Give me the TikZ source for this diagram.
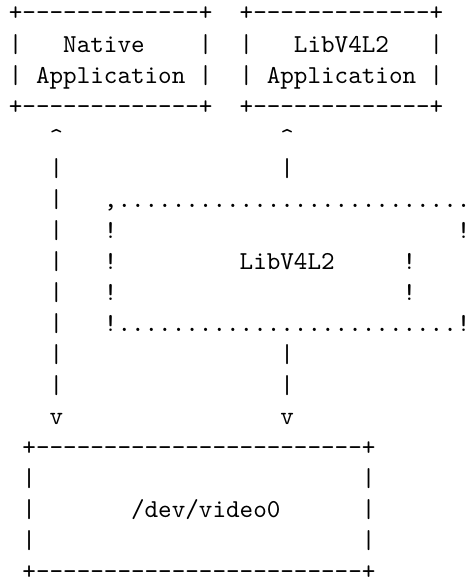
\documentclass[tikz,border=0pt]{standalone}

\newcommand\asciirun[4]{%
    \foreach \c in {#2,...,#3} \node[chr] at (\c,#1) {#4};}

\begin{document}
\begin{tikzpicture}[
    x=5.25pt, y=-12pt,
    chr/.style={font=\ttfamily, inner sep=0pt, outer sep=0pt, anchor=base west}
]
    \useasboundingbox (-0.656,0.323) rectangle (33.75,19.08);

    % application boxes
    \foreach \r in {1,4} {
        \node[chr] at (0,\r) {+}; \asciirun{\r}{1}{13}{-} \node[chr] at (14,\r) {+};
        \node[chr] at (17,\r) {+}; \asciirun{\r}{18}{30}{-} \node[chr] at (31,\r) {+};
    }
    \foreach \r in {2,3} {
        \node[chr] at (0,\r) {|}; \node[chr] at (14,\r) {|};
        \node[chr] at (17,\r) {|}; \node[chr] at (31,\r) {|};
    }
    \node[chr] at (4,2) (native) {Native};
    \node[chr] at (2,3) (nativeapp) {Application};
    \node[chr] at (21,2) (libapp) {LibV4L2};
    \node[chr] at (19,3) (libappname) {Application};

    % arrows
    \node[chr] at (3,5) (up1) {\textasciicircum};
    \node[chr] at (20,5) (up2) {\textasciicircum};
    \foreach \r in {6,...,13} \node[chr] at (3,\r) {|};
    \foreach \r in {6,12,13} \node[chr] at (20,\r) {|};
    \node[chr] at (3,14) (down1) {v};
    \node[chr] at (20,14) (down2) {v};

    % libv4l2 box
    \node[chr] at (7,7) {,}; \asciirun{7}{8}{33}{.}
    \foreach \r in {8,...,11} \node[chr] at (7,\r) {!};
    \node[chr] at (33,8) {!};
    \node[chr] at (29,9) {!};
    \node[chr] at (29,10) {!};
    \asciirun{11}{8}{32}{.} \node[chr] at (33,11) {!};
    \node[chr] at (17,9) (lib) {LibV4L2};

    % device box
    \foreach \r in {15,19} {
        \node[chr] at (1,\r) {+}; \asciirun{\r}{2}{25}{-} \node[chr] at (26,\r) {+};
    }
    \foreach \r in {16,17,18} {
        \node[chr] at (1,\r) {|}; \node[chr] at (26,\r) {|};
    }
    \node[chr] at (9,17) (dev) {/dev/video0};
\end{tikzpicture}
\end{document}
